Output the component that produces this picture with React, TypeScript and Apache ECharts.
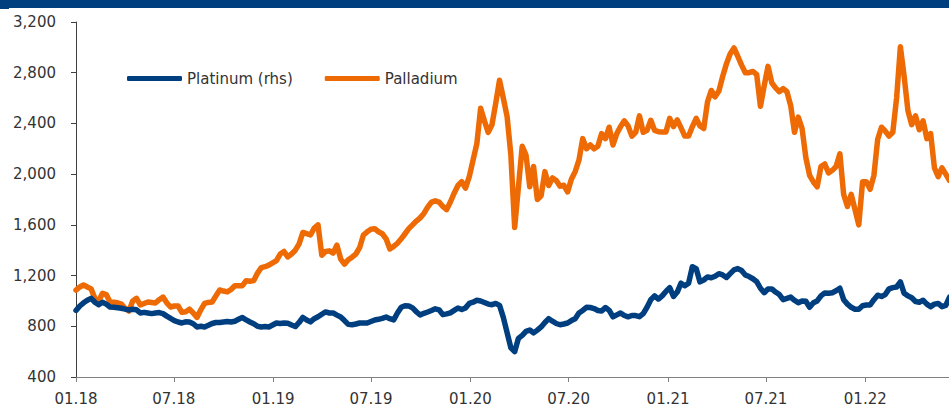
import React, { useEffect, useRef } from "react";
import * as echarts from "echarts";

// Weekly observations starting 2018-01-01
const startYear = 2018;
const platinum = [
  925, 960, 985, 1005, 1020, 990, 970, 990, 975, 952,
  950, 946, 942, 935, 929, 935, 930, 905, 910, 905,
  900, 905, 908, 900, 880, 862, 845, 834, 826, 835,
  834, 820, 795, 800, 795, 808, 822, 830, 830, 834,
  838, 834, 840, 855, 870, 850, 834, 820, 800, 795,
  798, 795, 810, 826, 822, 826, 824, 810, 798, 830,
  870, 850, 835, 860, 875, 895, 913, 905, 905, 888,
  873, 845, 815, 812, 818, 826, 826, 826, 838, 850,
  855, 862, 873, 860, 850, 905, 950, 962, 960, 945,
  915, 889, 902, 913, 925, 938, 930, 892, 898, 906,
  925, 944, 932, 945, 980, 990, 1005, 1000, 988, 975,
  970, 980, 965, 870, 750, 630, 600, 705, 728, 760,
  771, 748, 770, 795, 830, 860, 840, 822, 812, 818,
  826, 845, 860, 905, 925, 950, 948, 940, 925, 920,
  948, 925, 875, 890, 905, 885, 875, 885, 885, 876,
  900, 950, 1010, 1040, 1015, 1040, 1075, 1105, 1035, 1070,
  1140, 1120, 1140, 1270, 1255, 1150, 1165, 1189, 1183, 1195,
  1215, 1205, 1185, 1215, 1245, 1255, 1240, 1205, 1192, 1175,
  1152, 1100, 1065, 1095, 1095, 1070, 1050, 1010, 1020, 1030,
  1005, 985, 1000, 998, 950, 985, 1000, 1040, 1063, 1060,
  1065, 1080, 1100, 1010, 975, 950, 935, 935, 962, 968,
  968, 1010, 1045, 1035, 1050, 1095, 1105, 1110, 1150, 1060,
  1040, 1025, 995, 990, 1005, 975, 955, 975, 980, 955,
  965, 1030,
];
const palladium = [
  1086, 1110, 1126, 1110, 1095, 1020, 1000, 1060, 1050, 992,
  990, 985, 975, 940, 920, 1000, 1020, 968, 980, 992,
  988, 984, 1010, 1030, 985, 952, 960, 960, 910, 915,
  935, 905, 870, 930, 980, 988, 992, 1040, 1086, 1078,
  1071, 1090, 1120, 1120, 1120, 1160, 1155, 1160, 1220, 1262,
  1270, 1282, 1300, 1318, 1370, 1390, 1347, 1370, 1400, 1450,
  1540, 1530, 1520, 1575, 1600, 1360, 1390, 1395, 1378, 1440,
  1330, 1290, 1325, 1345, 1370, 1420, 1520, 1545, 1565, 1570,
  1545, 1530, 1490, 1410, 1430, 1455, 1490, 1530, 1570, 1600,
  1630, 1655, 1690, 1740, 1780, 1790, 1780, 1745, 1720, 1780,
  1850, 1910, 1940, 1890, 1980, 2110, 2240, 2520, 2420, 2330,
  2390, 2560, 2740, 2600, 2455, 2150, 1580, 1900, 2220, 2150,
  1900, 2060, 1800, 1830, 2020, 1910, 1970, 1950, 1905, 1912,
  1860, 1960, 2020, 2110, 2280, 2200, 2230, 2200, 2220, 2320,
  2280, 2370, 2230, 2320, 2375, 2420, 2380, 2300, 2330, 2460,
  2330, 2345, 2425, 2345, 2335, 2333, 2333, 2440, 2375, 2428,
  2365, 2300, 2300, 2375, 2440, 2380, 2360, 2570, 2660, 2610,
  2655, 2770, 2870, 2950, 2995, 2930, 2860, 2800, 2800, 2810,
  2785, 2535, 2700, 2850, 2720, 2680, 2650, 2675, 2650, 2540,
  2330, 2450, 2360, 2130, 1990, 1938, 1900, 2060, 2080, 2010,
  2030, 2060, 2160, 1840, 1745, 1840, 1720, 1600, 1940, 1940,
  1880, 1990, 2275, 2370, 2340, 2300, 2330, 2600, 3004, 2770,
  2500, 2390, 2460, 2350, 2420, 2280, 2320, 2050, 1980, 2050,
  2000, 1950,
];
const tickLabels = [
  "01.18", "07.18", "01.19", "07.19", "01.20", "07.20", "01.21", "07.21", "01.22",
];
const seriesNames = ["Platinum (rhs)", "Palladium"];

const weekTime = (i: number) => new Date(startYear, 0, 1 + 7 * i).getTime();
const tickTimes = tickLabels.map((l) => {
  const [mm, yy] = l.split(".");
  return new Date(2000 + Number(yy), Number(mm) - 1, 1).getTime();
});

const BLUE = "#003f7f";
const ORANGE = "#ee6a05";
const FONT = "DejaVu Sans";

export default function App() {
  const ref = useRef<HTMLDivElement>(null);
  useEffect(() => {
    if (!ref.current) return;
    const chart = echarts.init(ref.current, null, { renderer: "svg" });
    chart.setOption({
      animation: false,
      backgroundColor: "#ffffff",
      textStyle: { fontFamily: FONT },
      graphic: [
        { type: "rect", shape: { x: 0, y: 0, width: 949, height: 8 }, style: { fill: BLUE } },
        { type: "rect", shape: { x: 0, y: 0, width: 9, height: 9 }, style: { fill: BLUE } },
      ],
      grid: { left: 76, right: 0, top: 22, bottom: 32, containLabel: false, outerBoundsMode: "none" },
      legend: {
        data: seriesNames,
        left: 122,
        top: 66,
        icon: "roundRect",
        itemWidth: 55,
        itemHeight: 5,
        itemGap: 32,
        textStyle: { fontSize: 15, color: "#333333", fontFamily: FONT },
      },
      xAxis: {
        type: "value",
        min: new Date(startYear, 0, 1).getTime(),
        max: new Date(2022, 5, 5).getTime(),
        axisLine: { lineStyle: { color: "#808080", width: 1 } },
        axisTick: { show: true, length: 5, lineStyle: { color: "#808080" }, customValues: tickTimes },
        axisLabel: {
          customValues: tickTimes,
          fontSize: 15,
          color: "#333333",
          margin: 14,
          fontFamily: FONT,
          formatter: (v: number) => {
            const idx = tickTimes.indexOf(v);
            return idx >= 0 ? tickLabels[idx] : "";
          },
        },
        splitLine: { show: false },
      },
      yAxis: {
        type: "value",
        min: 400,
        max: 3200,
        interval: 400,
        axisLine: { show: true, lineStyle: { color: "#404040", width: 1 } },
        axisTick: { show: true, length: 5, lineStyle: { color: "#404040" } },
        axisLabel: {
          fontSize: 15,
          color: "#333333",
          margin: 20,
          fontFamily: FONT,
          formatter: (v: number) => v.toLocaleString("en-US"),
        },
        splitLine: { show: false },
      },
      series: [
        {
          name: seriesNames[0],
          type: "line",
          showSymbol: false,
          symbol: "none",
          data: platinum.map((v, i) => [weekTime(i), v]),
          lineStyle: { color: BLUE, width: 5.5, join: "round", cap: "round" },
          itemStyle: { color: BLUE },
          z: 3,
        },
        {
          name: seriesNames[1],
          type: "line",
          showSymbol: false,
          symbol: "none",
          data: palladium.map((v, i) => [weekTime(i), v]),
          lineStyle: { color: ORANGE, width: 5.5, join: "round", cap: "round" },
          itemStyle: { color: ORANGE },
          z: 2,
        },
      ],
    });
    return () => chart.dispose();
  }, []);
  return (
    <div
      ref={ref}
      style={{ position: "fixed", left: 0, top: 0, width: 949, height: 409, background: "#fff" }}
    />
  );
}
